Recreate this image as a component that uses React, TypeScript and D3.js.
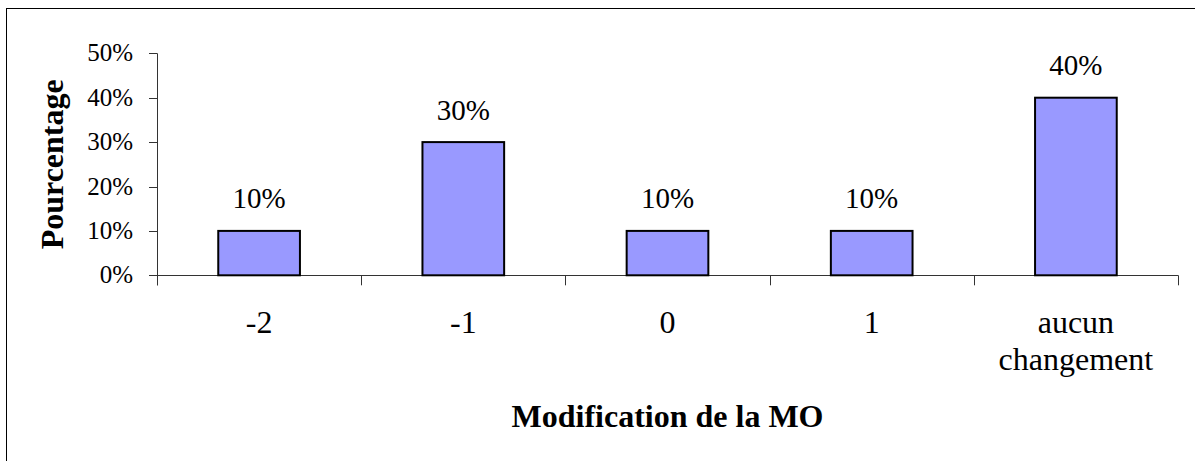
import React from "react"
import * as d3 from "d3"

const categories = ["-2", "-1", "0", "1", "aucun changement"]
const percentages = [0.1, 0.3, 0.1, 0.1, 0.4]
const yTicks = [0, 0.1, 0.2, 0.3, 0.4, 0.5]

const width = 1195
const height = 461
const plot = { left: 157, right: 1178, top: 53.3, bottom: 275.3 }
const serif = { fontFamily: "'Liberation Serif', 'Times New Roman', serif" }

export default function App() {
    const x = d3.scaleBand<string>()
        .domain(categories)
        .range([plot.left, plot.right])
        .padding(0)

    const y = d3.scaleLinear()
        .domain([0, 0.5])
        .range([plot.bottom, plot.top])

    const bw = x.bandwidth()
    const barW = bw * 0.4
    const pct = d3.format(".0%")
    const boundaries = categories.map(c => x(c)!).concat([plot.right])

    return (
        <svg
            width={width}
            height={height}
            style={{ position: "absolute", left: 0, top: 0, background: "#fff" }}
        >
            <rect x={6.5} y={8.5} width={1300} height={600} fill="#fff" stroke="#000" strokeWidth={1} />

            {/* y axis */}
            <line x1={plot.left + 0.5} x2={plot.left + 0.5} y1={plot.top} y2={plot.bottom + 10} stroke="#333" />
            {yTicks.map(t => (
                <g key={t}>
                    <line x1={plot.left - 8} x2={plot.left} y1={Math.round(y(t)) + 0.5} y2={Math.round(y(t)) + 0.5} stroke="#333" />
                    <text x={133} y={y(t) + 8} textAnchor="end" fontSize={25} fill="#000" style={serif}>{pct(t)}</text>
                </g>
            ))}

            {/* x axis */}
            <line x1={plot.left} x2={plot.right} y1={Math.round(plot.bottom) + 0.5} y2={Math.round(plot.bottom) + 0.5} stroke="#333" />
            {boundaries.map((b, i) => (
                <line key={i} x1={Math.round(b) + 0.5} x2={Math.round(b) + 0.5} y1={plot.bottom} y2={plot.bottom + 10} stroke="#333" />
            ))}

            {/* bars */}
            {categories.map((c, i) => {
                const bx = x(c)! + (bw - barW) / 2
                const top = y(percentages[i])
                return (
                    <g key={c}>
                        <rect x={bx} y={top} width={barW} height={y(0) - top} fill="#9999ff" stroke="#000" strokeWidth={2} />
                        <text x={x(c)! + bw / 2} y={top - 22.5} textAnchor="middle" fontSize={29} fill="#000" style={serif}>
                            {pct(percentages[i])}
                        </text>
                    </g>
                )
            })}

            {/* category labels */}
            {categories.map(c => {
                const lines = c === "aucun changement" ? ["aucun", "changement"] : [c]
                return (
                    <text key={c} x={x(c)! + bw / 2} y={333} textAnchor="middle" fontSize={32} fill="#000" style={serif}>
                        {lines.map((l, j) => (
                            <tspan key={j} x={x(c)! + bw / 2} dy={j === 0 ? 0 : 37}>{l}</tspan>
                        ))}
                    </text>
                )
            })}

            {/* titles */}
            <text x={(plot.left + plot.right) / 2} y={427} textAnchor="middle" fontSize={32} fontWeight="bold" fill="#000" style={serif}>
                Modification de la MO
            </text>
            <text
                transform={`translate(63,${(plot.top + plot.bottom) / 2}) rotate(-90)`}
                textAnchor="middle"
                fontSize={32}
                fontWeight="bold"
                fill="#000"
                style={serif}
            >
                Pourcentage
            </text>
        </svg>
    )
}
